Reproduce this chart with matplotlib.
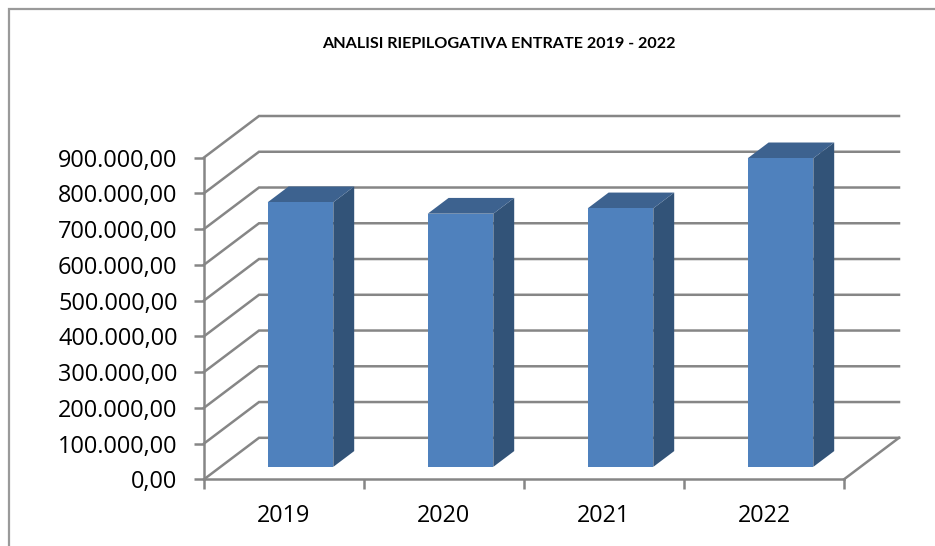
import matplotlib
matplotlib.use("Agg")
import matplotlib.pyplot as plt
from matplotlib.patches import Polygon, Rectangle

categories = ["2019", "2020", "2021", "2022"]
values = [740000, 708000, 723000, 863000]
tick_values = [0, 100000, 200000, 300000, 400000, 500000, 600000, 700000, 800000, 900000]
tick_labels = ["0,00", "100.000,00", "200.000,00", "300.000,00", "400.000,00",
               "500.000,00", "600.000,00", "700.000,00", "800.000,00", "900.000,00"]
title = "ANALISI RIEPILOGATIVA ENTRATE 2019 - 2022"

W, H = 935, 546
GRID = "#868686"
FRONT, TOP, SIDE = "#4f81bd", "#3d628f", "#325378"

plt.rcParams["font.family"] = ["Open Sans", "DejaVu Sans"]
fig = plt.figure(figsize=(W / 100, H / 100), dpi=100)
L, R, T, B = 204, 844, 157.5, 479.3
ax = fig.add_axes([L / W, 1 - B / H, (R - L) / W, (B - T) / H])
ax.set_xlim(0, 4)
ax.set_ylim(0, 900000)
ax.patch.set_visible(False)
for s in ("top", "right"):
    ax.spines[s].set_visible(False)
for s in ("left", "bottom"):
    ax.spines[s].set_color(GRID)
    ax.spines[s].set_linewidth(1.8)
    ax.spines[s].set_zorder(1)

DX = 55 / ((R - L) / 4)           # full depth in category units
DY = 41.5 / ((B - T) / 9) * 100000  # full depth in value units


def proj(x, v, d):
    return (x + d * DX, v + d * DY)


for v in tick_values:
    ax.plot(*zip(proj(0, v, 0), proj(0, v, 1), proj(4, v, 1)), color=GRID, lw=1.8,
            clip_on=False, zorder=1, solid_joinstyle="miter")
ax.plot(*zip(proj(4, 0, 0), proj(4, 0, 1)), color=GRID, lw=1.8, clip_on=False, zorder=1)

D0, D1 = 0.30, 0.68
BW = 0.41
for i, v in enumerate(values):
    x0, x1 = i + 0.5 - BW / 2, i + 0.5 + BW / 2
    ax.add_patch(Polygon([proj(x1, 0, D0), proj(x1, 0, D1), proj(x1, v, D1), proj(x1, v, D0)],
                         fc=SIDE, ec="none", clip_on=False, zorder=3))
    ax.add_patch(Polygon([proj(x0, v, D0), proj(x1, v, D0), proj(x1, v, D1), proj(x0, v, D1)],
                         fc=TOP, ec="none", clip_on=False, zorder=3))
    ax.add_patch(Polygon([proj(x0, 0, D0), proj(x1, 0, D0), proj(x1, v, D0), proj(x0, v, D0)],
                         fc=FRONT, ec="none", clip_on=False, zorder=4))

ax.set_yticks(tick_values)
ax.set_yticklabels(tick_labels, fontsize=16.9, color="black")
ax.set_xticks(range(5))
ax.set_xticklabels([])
ax.set_xticks([i + 0.5 for i in range(4)], minor=True)
ax.set_xticklabels(categories, minor=True, fontsize=16.8, color="black")
ax.tick_params(axis="y", length=7, width=1.8, color=GRID, pad=12)
ax.tick_params(axis="x", which="major", length=7, width=1.8, color=GRID)
ax.tick_params(axis="x", which="minor", length=0, pad=18)

fig.text(498.5 / W, 1 - 44.5 / H, title, ha="center", va="center", fontsize=11.6,
         fontweight="bold", family=["Lato", "DejaVu Sans"], color="black")
fig.add_artist(Rectangle((8.5 / W, 1 - 560 / H), 1200 / W, 551.5 / H, transform=fig.transFigure,
                         fc="none", ec="#9a9a9a", lw=1.6, clip_on=True))
fig.savefig("out.png", dpi=100)
